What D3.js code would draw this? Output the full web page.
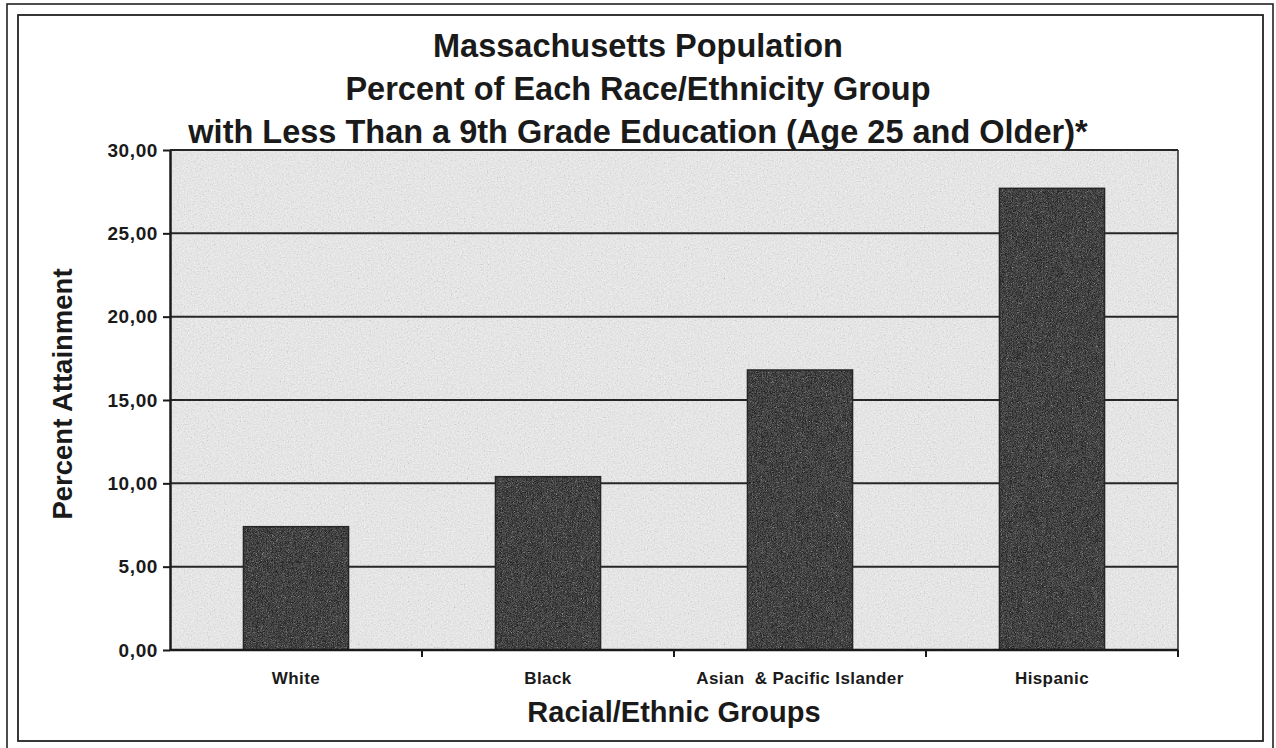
<!DOCTYPE html>
<html>
<head>
<meta charset="utf-8">
<script src="https://cdn.jsdelivr.net/npm/d3@7/dist/d3.min.js"></script>
<style>
  html, body { margin: 0; padding: 0; background: #ffffff; }
  svg { display: block; }
  text { font-family: "Liberation Sans", Arial, sans-serif; font-weight: bold; fill: #1a1a1a; }
</style>
</head>
<body>
<script>
// ---- data ----
const categories = ["White", "Black", "Asian  & Pacific Islander", "Hispanic"];
const values = [7.4, 10.4, 16.8, 27.7];
const yTicks = [0, 5, 10, 15, 20, 25, 30];
const titleLines = [
  "Massachusetts Population",
  "Percent of Each Race/Ethnicity Group",
  "with Less Than a 9th Grade Education (Age 25 and Older)*"
];
const yTitle = "Percent Attainment";
const xTitle = "Racial/Ethnic Groups";

// ---- layout ----
const W = 1276, H = 748;
const plot = { left: 170, right: 1178, top: 150, bottom: 650 };

const svg = d3.select("body").append("svg").attr("width", W).attr("height", H);

// textures
const defs = svg.append("defs");
function grain(id, freq, seed, table) {
  const f = defs.append("filter").attr("id", id)
    .attr("x", 0).attr("y", 0).attr("width", 1).attr("height", 1)
    .attr("color-interpolation-filters", "sRGB");
  f.append("feTurbulence").attr("type", "fractalNoise")
    .attr("baseFrequency", freq).attr("numOctaves", 2).attr("seed", seed).attr("result", "noise");
  f.append("feColorMatrix").attr("in", "noise").attr("type", "matrix")
    .attr("values", "0.33 0.33 0.33 0 0  0.33 0.33 0.33 0 0  0.33 0.33 0.33 0 0  0 0 0 0 1")
    .attr("result", "gray");
  const ct = f.append("feComponentTransfer").attr("in", "gray").attr("result", "mapped");
  ["feFuncR", "feFuncG", "feFuncB"].forEach(n => ct.append(n).attr("type", "table").attr("tableValues", table));
  f.append("feComposite").attr("in", "mapped").attr("in2", "SourceGraphic").attr("operator", "in");
}
grain("grainLight", 0.7, 7, "0.5 0.76 0.87 0.93 0.97 1");
grain("grainDark", 1.2, 3, "0 0.07 0.17 0.36 0.66 0.9");

// frames
svg.append("rect").attr("x", 7).attr("y", 4).attr("width", 1266).attr("height", 780)
  .attr("fill", "none").attr("stroke", "#222").attr("stroke-width", 1.6);
svg.append("rect").attr("x", 18).attr("y", 15).attr("width", 1245).attr("height", 726)
  .attr("fill", "none").attr("stroke", "#222").attr("stroke-width", 1.8);

// scales
const x = d3.scaleBand().domain(categories).range([plot.left, plot.right])
  .paddingInner(0.583).paddingOuter(0.2915);
const y = d3.scaleLinear().domain([0, 30]).range([plot.bottom, plot.top]);

// plot background
svg.append("rect").attr("x", plot.left).attr("y", plot.top)
  .attr("width", plot.right - plot.left).attr("height", plot.bottom - plot.top)
  .attr("fill", "#e6e6e6").attr("filter", "url(#grainLight)");

// gridlines
svg.append("g").selectAll("line").data(yTicks.filter(d => d > 0)).join("line")
  .attr("x1", plot.left).attr("x2", plot.right)
  .attr("y1", d => y(d)).attr("y2", d => y(d))
  .attr("stroke", "#262626").attr("stroke-width", 2);

// right border
svg.append("line").attr("x1", plot.right).attr("x2", plot.right)
  .attr("y1", plot.top).attr("y2", plot.bottom)
  .attr("stroke", "#333").attr("stroke-width", 1.6);

// bars
svg.append("g").selectAll("rect").data(values).join("rect")
  .attr("x", (d, i) => x(categories[i]))
  .attr("y", d => y(d))
  .attr("width", x.bandwidth())
  .attr("height", d => y(0) - y(d))
  .attr("fill", "#333").attr("filter", "url(#grainDark)");
svg.append("g").selectAll("rect").data(values).join("rect")
  .attr("x", (d, i) => x(categories[i]))
  .attr("y", d => y(d))
  .attr("width", x.bandwidth())
  .attr("height", d => y(0) - y(d))
  .attr("fill", "none").attr("stroke", "#262626").attr("stroke-width", 1.5);

// y axis
const fmt = d => d3.format(".2f")(d).replace(".", ",");
const yAxis = svg.append("g").attr("transform", `translate(${plot.left},0)`)
  .call(d3.axisLeft(y).tickValues(yTicks).tickFormat(fmt).tickSize(7).tickSizeOuter(0).tickPadding(5));
yAxis.select(".domain").attr("stroke", "#1a1a1a").attr("stroke-width", 2.5);
yAxis.selectAll(".tick line").attr("stroke", "#1a1a1a").attr("stroke-width", 2);
yAxis.selectAll(".tick text")
  .style("font-family", "'Liberation Sans', Arial, sans-serif")
  .style("font-weight", "bold").style("font-size", "19px").style("letter-spacing", "0.6px")
  .attr("fill", "#1a1a1a");

// x axis baseline + boundary ticks
svg.append("line").attr("x1", plot.left).attr("x2", plot.right)
  .attr("y1", y(0)).attr("y2", y(0)).attr("stroke", "#1a1a1a").attr("stroke-width", 2.5);
// top border
svg.append("line").attr("x1", plot.left).attr("x2", plot.right)
  .attr("y1", y(30)).attr("y2", y(30)).attr("stroke", "#262626").attr("stroke-width", 2);
const boundaries = categories.map(c => x(c) + x.bandwidth() / 2 + x.step() / 2);
svg.append("g").selectAll("line").data(boundaries).join("line")
  .attr("x1", d => d).attr("x2", d => d)
  .attr("y1", y(0)).attr("y2", y(0) + 7)
  .attr("stroke", "#1a1a1a").attr("stroke-width", 2);

// category labels
svg.append("g").selectAll("text").data(categories).join("text")
  .attr("x", d => x(d) + x.bandwidth() / 2)
  .attr("y", 684)
  .attr("text-anchor", "middle")
  .style("white-space", "pre")
  .style("font-size", "17px").style("letter-spacing", "0.4px")
  .text(d => d);

// axis titles
svg.append("text").attr("x", (plot.left + plot.right) / 2).attr("y", 722)
  .attr("text-anchor", "middle").style("font-size", "29px").text(xTitle);
svg.append("text")
  .attr("transform", `translate(72, ${(plot.top + plot.bottom) / 2 - 6}) rotate(-90)`)
  .attr("text-anchor", "middle").style("font-size", "27.5px").text(yTitle);

// title
svg.append("g").selectAll("text").data(titleLines).join("text")
  .attr("x", 638)
  .attr("y", (d, i) => 57 + i * 43)
  .attr("text-anchor", "middle")
  .style("font-size", "32.5px")
  .text(d => d);
</script>
</body>
</html>
